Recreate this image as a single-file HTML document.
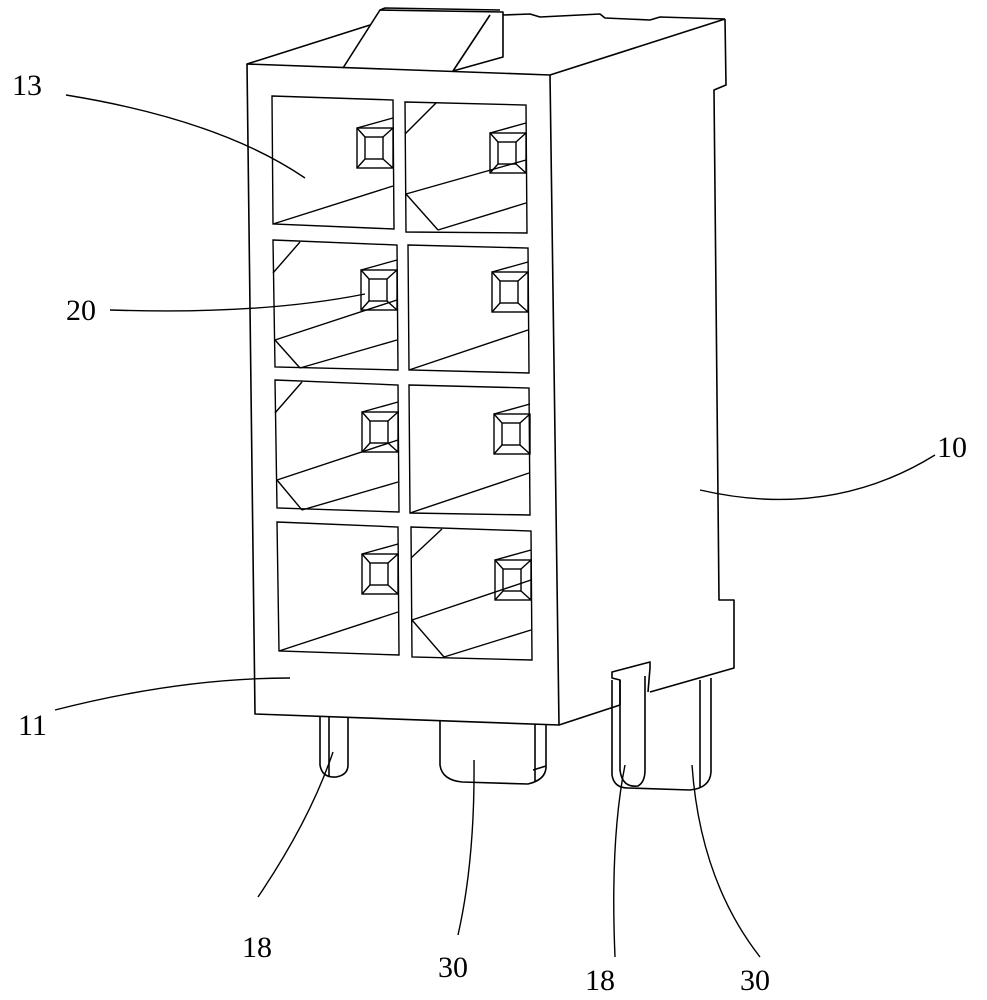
<!DOCTYPE html>
<html><head><style>
body{margin:0;background:#fff;}
svg{display:block}
text{font-family:"Liberation Serif",serif;font-size:30px;fill:#000}
</style></head><body>
<svg width="987" height="1000" viewBox="0 0 987 1000" xmlns="http://www.w3.org/2000/svg">
<defs>
<g id="s" fill="none" stroke="#000" stroke-width="1.4">
<rect x="0" y="0" width="36" height="40"/>
<rect x="8" y="9" width="18" height="22"/>
<line x1="0" y1="0" x2="8" y2="9"/><line x1="36" y1="0" x2="26" y2="9"/>
<line x1="0" y1="40" x2="8" y2="31"/><line x1="36" y1="40" x2="26" y2="31"/>
<line x1="0" y1="0" x2="36" y2="-10"/>
</g>
</defs>
<g fill="none" stroke="#000" stroke-width="1.6" stroke-linejoin="round">
<polygon points="247,64 550,75 559,725 255,714" fill="#fff"/>
<polyline points="247,64 370,25"/>
<polyline points="550,75 725,19"/>
<polyline points="503,15 530,14 540,17 600,14 605,18 650,20 660,17 725,19"/>
<polyline points="343,68 380,10 503,12 503,57 453,71"/>
<polyline points="380,10 385,8 500,10"/>
<polyline points="490,15 453,71"/>
<polyline points="725,19 726,85 714,90 719,600 734,600 734,668 650,692"/>
<polyline points="559,725 620,705"/>
<polyline points="620,705 620,680 612,678 612,672 650,662 650,668 648,692"/>
<path d="M620,680 L620,770 Q622,788 638,786 Q645,782 645,770 L645,676"/>
<path d="M612,680 L612,775 Q614,788 628,788"/>
<path d="M628,788 L690,790 Q710,788 711,772 L711,678"/>
<line x1="700" y1="680" x2="700" y2="788"/>
<path d="M320,716 L320,765 Q322,778 336,777 Q348,775 348,765 L348,718"/>
<line x1="329" y1="716" x2="329" y2="777"/>
<path d="M440,720 L440,765 Q442,780 462,782 L528,784 Q545,780 546,768 L546,724"/>
<line x1="535" y1="724" x2="535" y2="782"/>
<line x1="533" y1="770" x2="546" y2="766"/>
</g>
<g fill="none" stroke="#000" stroke-width="1.4">
<polygon points="272,96 393,100 394,229 273,224"/>
<polygon points="405,102 526,105 527,233 406,232"/>
<polygon points="273,240 397,245 398,370 275,367"/>
<polygon points="408,245 528,248 529,373 409,370"/>
<polygon points="275,380 398,385 399,512 277,508"/>
<polygon points="409,385 529,388 530,515 410,513"/>
<polygon points="277,522 398,527 399,655 279,651"/>
<polygon points="411,527 531,531 532,660 412,657"/>
<line x1="273" y1="224" x2="393" y2="186"/>
<line x1="406" y1="194" x2="526" y2="160"/>
<line x1="438" y1="230" x2="526" y2="203"/>
<polyline points="405,134 436,103"/>
<polyline points="406,194 438,230"/>
<line x1="275" y1="340" x2="397" y2="300"/>
<line x1="300" y1="368" x2="397" y2="340"/>
<polyline points="273,273 300,242"/>
<polyline points="275,340 300,368"/>
<line x1="409" y1="370" x2="528" y2="330"/>
<line x1="277" y1="480" x2="398" y2="440"/>
<line x1="302" y1="510" x2="398" y2="482"/>
<polyline points="275,413 302,382"/>
<polyline points="277,480 302,510"/>
<line x1="410" y1="513" x2="529" y2="473"/>
<line x1="279" y1="651" x2="398" y2="612"/>
<line x1="412" y1="620" x2="531" y2="580"/>
<line x1="444" y1="657" x2="531" y2="630"/>
<polyline points="411,558 442,529"/>
<polyline points="412,620 444,657"/>
<path d="M66,95 Q220,120 305,178"/>
<path d="M110,310 Q260,315 365,294"/>
<path d="M935,455 Q830,520 700,490"/>
<path d="M55,710 Q180,678 290,678"/>
<path d="M258,897 Q310,820 333,752"/>
<path d="M458,935 Q475,860 474,760"/>
<path d="M615,957 Q610,840 625,765"/>
<path d="M760,957 Q700,880 692,765"/>
</g>
<use href="#s" x="357" y="128"/>
<use href="#s" x="490" y="133"/>
<use href="#s" x="361" y="270"/>
<use href="#s" x="492" y="272"/>
<use href="#s" x="362" y="412"/>
<use href="#s" x="494" y="414"/>
<use href="#s" x="362" y="554"/>
<use href="#s" x="495" y="560"/>
<text x="12" y="95">13</text>
<text x="66" y="320">20</text>
<text x="937" y="457">10</text>
<text x="18" y="735">11</text>
<text x="242" y="957">18</text>
<text x="438" y="977">30</text>
<text x="585" y="990">18</text>
<text x="740" y="990">30</text>
</svg>
</body></html>
